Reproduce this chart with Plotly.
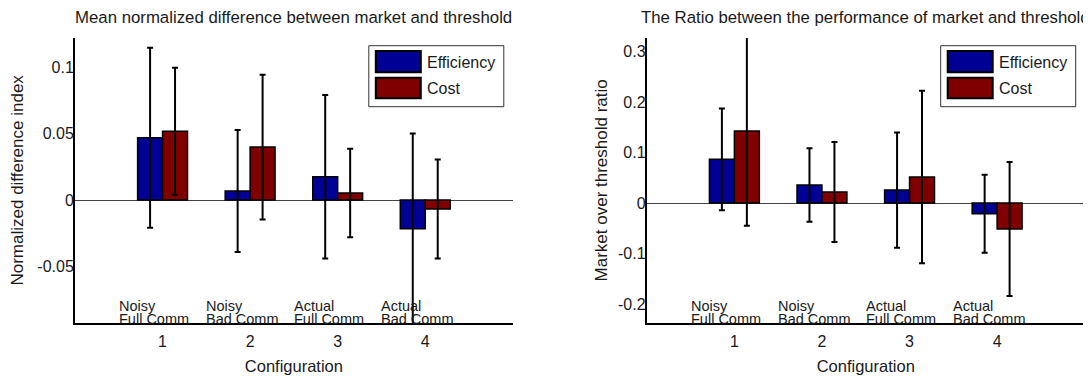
import plotly.graph_objects as go

# ---------------- data ----------------
configs = [1, 2, 3, 4]
series_names = ["Efficiency", "Cost"]
label_line1 = ["Noisy", "Noisy", "Actual", "Actual"]
label_line2 = ["Full Comm", "Bad Comm", "Full Comm", "Bad Comm"]

# left panel: mean normalized difference
diff_eff = [0.0470, 0.0068, 0.0176, -0.0217]
diff_eff_err = [0.0680, 0.0460, 0.0618, 0.0720]
diff_cost = [0.0520, 0.0400, 0.0053, -0.0068]
diff_cost_err = [0.0480, 0.0547, 0.0335, 0.0374]

# right panel: ratio market / threshold
ratio_eff = [0.0867, 0.0358, 0.0259, -0.0210]
ratio_eff_err = [0.1006, 0.0726, 0.1140, 0.0772]
ratio_cost = [0.1427, 0.0220, 0.0517, -0.0510]
ratio_cost_err = [0.1874, 0.0990, 0.1708, 0.1326]

titles = ["Mean normalized difference between market and threshold",
          "The Ratio between the performance of market and threshold"]
ytitles = ["Normalized difference index", "Market over threshold ratio"]
xtitle = "Configuration"

left_ticks = [-0.05, 0, 0.05, 0.1]
left_ticktext = ["-0.05", "0", "0.05", "0.1"]
right_ticks = [-0.2, -0.1, 0, 0.1, 0.2, 0.3]
right_ticktext = ["-0.2", "-0.1", "0", "0.1", "0.2", "0.3"]

# ---------------- styling ----------------
OFF = 8  # page body margin
W, H = 1091 - OFF, 376 - OFF
BLUE = "rgb(0,0,148)"
RED = "rgb(128,0,0)"
FONT = "Liberation Sans, Arial, sans-serif"
TXT = "#1a1a1a"

def px(xp):
    return (xp - OFF) / W

def py(yp):
    return 1 - (yp - OFF) / H

plot_top, plot_bottom = 38.0, 322.7
panels = [
    dict(x0=75.0, x1=512.8, xa="x", ya="y", yrange=[-0.0927, 0.1224],
         tv=left_ticks, tt=left_ticktext, eff=diff_eff, effe=diff_eff_err,
         cost=diff_cost, coste=diff_cost_err, ystand=14),
    dict(x0=646.8, x1=1084.7, xa="x2", ya="y2", yrange=[-0.2366, 0.3267],
         tv=right_ticks, tt=right_ticktext, eff=ratio_eff, effe=ratio_eff_err,
         cost=ratio_cost, coste=ratio_cost_err, ystand=6),
]

fig = go.Figure()
shapes = []
annotations = []

for i, p in enumerate(panels):
    for name, vals, errs, col in [(series_names[0], p["eff"], p["effe"], BLUE),
                                  (series_names[1], p["cost"], p["coste"], RED)]:
        fig.add_trace(go.Bar(
            x=configs, y=vals, name=name, xaxis=p["xa"], yaxis=p["ya"],
            marker=dict(color=col, line=dict(color="black", width=1.5)),
            error_y=dict(type="data", array=errs, visible=True,
                         color="black", thickness=2, width=3),
            showlegend=False,
        ))
    # titles
    annotations.append(dict(
        text=titles[i], xref="paper", yref="paper",
        x=px((p["x0"] + p["x1"]) / 2), y=py(17), xanchor="center", yanchor="middle",
        showarrow=False, font=dict(family=FONT, size=16.8, color=TXT)))
    # group labels
    for k, c in enumerate(configs):
        annotations.append(dict(
            text=label_line1[k], xref=p["xa"], yref="paper", x=c - 0.5, y=py(305.5),
            xanchor="left", yanchor="middle", showarrow=False, xshift=-2,
            font=dict(family=FONT, size=14.5, color=TXT)))
        annotations.append(dict(
            text=label_line2[k], xref=p["xa"], yref="paper", x=c - 0.5, y=py(319),
            xanchor="left", yanchor="middle", showarrow=False, xshift=-2,
            font=dict(family=FONT, size=14.5, color=TXT)))
    # custom legend (matlab style)
    bx1 = p["x1"] - 9
    bx0 = bx1 - 135
    by0, by1 = 45.7, 106.7
    shapes.append(dict(type="rect", xref="paper", yref="paper",
                       x0=px(bx0), x1=px(bx1), y0=py(by1), y1=py(by0),
                       line=dict(color="#333", width=1), fillcolor="white"))
    for j, (name, col, (ty0, ty1)) in enumerate([(series_names[0], BLUE, (51, 72.3)),
                                                  (series_names[1], RED, (77.7, 98.3))]):
        shapes.append(dict(type="rect", xref="paper", yref="paper",
                           x0=px(bx0 + 7), x1=px(bx0 + 52), y0=py(ty1), y1=py(ty0),
                           line=dict(color="black", width=2), fillcolor=col))
        annotations.append(dict(
            text=name, xref="paper", yref="paper", x=px(bx0 + 56), y=py((ty0 + ty1) / 2 + 0.5),
            xanchor="left", yanchor="middle", showarrow=False,
            font=dict(family=FONT, size=16, color=TXT)))

axis_common = dict(showgrid=False, ticks="", linecolor="black", linewidth=2,
                   showline=True, mirror=False,
                   tickfont=dict(family=FONT, size=16, color=TXT))

layout = dict(
    width=W, height=H, margin=dict(l=0, r=0, t=0, b=0),
    paper_bgcolor="white", plot_bgcolor="white",
    barmode="group", bargap=0.43, bargroupgap=0,
    shapes=shapes, annotations=annotations,
    font=dict(family=FONT, size=16, color=TXT),
)
for i, p in enumerate(panels):
    xkey = "xaxis" if i == 0 else "xaxis2"
    ykey = "yaxis" if i == 0 else "yaxis2"
    layout[xkey] = dict(axis_common, domain=[px(p["x0"]), px(p["x1"])], range=[0, 5],
                        tickvals=configs, ticktext=[str(c) for c in configs],
                        anchor=p["ya"], zeroline=False,
                        ticklabelstandoff=3,
                        title=dict(text=xtitle, standoff=12,
                                   font=dict(family=FONT, size=16.5, color=TXT)))
    layout[ykey] = dict(axis_common, domain=[py(plot_bottom), py(plot_top)],
                        range=p["yrange"], tickvals=p["tv"], ticktext=p["tt"],
                        anchor=p["xa"], zeroline=True, zerolinecolor="#444",
                        zerolinewidth=1, ticklabelstandoff=-4,
                        title=dict(text=ytitles[i], standoff=p["ystand"],
                                   font=dict(family=FONT, size=17, color=TXT)))

fig.update_layout(**layout)
fig.write_html("out.html")
